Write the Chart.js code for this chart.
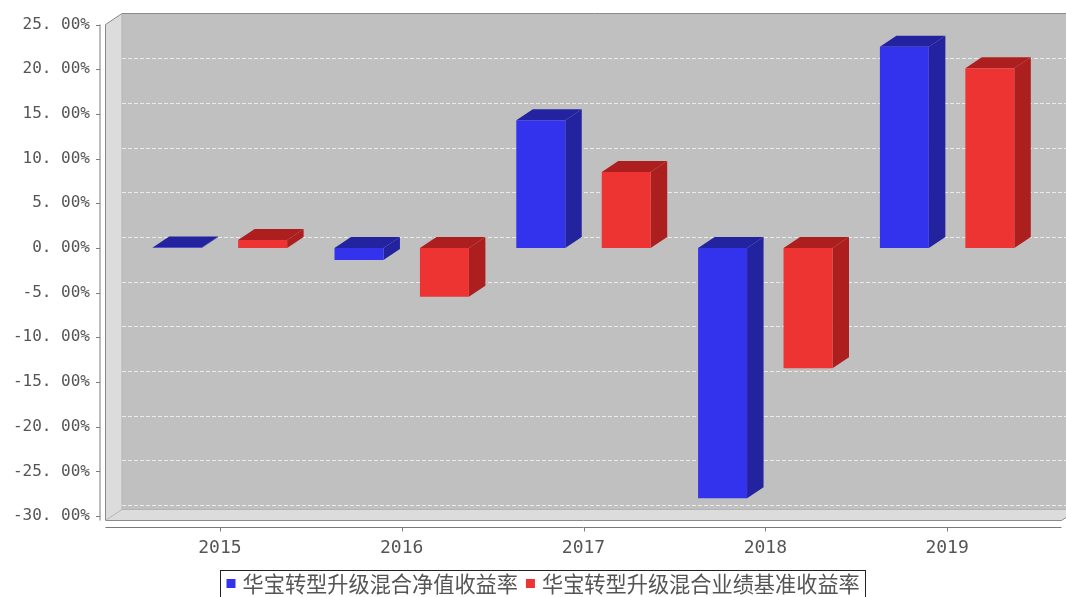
<!DOCTYPE html>
<html>
<head>
<meta charset="utf-8">
<title>华宝转型升级混合 年度收益率</title>
<script src="https://cdn.jsdelivr.net/npm/chart.js@4.4.1/dist/chart.umd.min.js"></script>
<style>
  html, body { margin: 0; padding: 0; background: #fff; }
  #wrap { position: relative; width: 1066px; height: 597px; }
</style>
</head>
<body>
<div id="wrap"><canvas id="chart"></canvas></div>
<script>
// data
const years = ["2015", "2016", "2017", "2018", "2019"];
const navReturn = [0.05, -1.35, 14.3, -28.0, 22.5];
const benchmarkReturn = [0.9, -5.45, 8.5, -13.45, 20.1];
const tickValues = [25, 20, 15, 10, 5, 0, -5, -10, -15, -20, -25, -30];
const tickLabels = ["25. 00%", "20. 00%", "15. 00%", "10. 00%", "5. 00%", "0. 00%",
  "-5. 00%", "-10. 00%", "-15. 00%", "-20. 00%", "-25. 00%", "-30. 00%"];
const seriesNames = ["华宝转型升级混合净值收益率", "华宝转型升级混合业绩基准收益率"];

const depthX = 16.5;
const depthY = 11;
const sideMargin = 23.5;
const darkColors = ["#23239f", "#ad1f1f"];

function frameBox(chart) {
	const a = chart.chartArea;
	return { L: a.left - sideMargin, R: a.right + sideMargin, T: a.top, B: a.bottom };
}

const bars3d = {
	id: "bars3d",
	beforeDraw(chart) {
		const ctx = chart.ctx;
		const f = frameBox(chart);
		ctx.save();
		// back wall
		ctx.fillStyle = "#c0c0c0";
		ctx.fillRect(f.L + depthX, f.T - depthY, f.R - f.L, f.B - f.T);
		// left wall + floor
		ctx.fillStyle = "#dcdcdc";
		ctx.beginPath();
		ctx.moveTo(f.L, f.T);
		ctx.lineTo(f.L + depthX, f.T - depthY);
		ctx.lineTo(f.L + depthX, f.B - depthY);
		ctx.lineTo(f.L, f.B);
		ctx.closePath();
		ctx.fill();
		ctx.beginPath();
		ctx.moveTo(f.L, f.B);
		ctx.lineTo(f.L + depthX, f.B - depthY);
		ctx.lineTo(f.R + depthX, f.B - depthY);
		ctx.lineTo(f.R, f.B);
		ctx.closePath();
		ctx.fill();
		// outline
		ctx.strokeStyle = "#8a8a8a";
		ctx.lineWidth = 1;
		ctx.beginPath();
		ctx.moveTo(f.L, f.B);
		ctx.lineTo(f.L, f.T);
		ctx.lineTo(f.L + depthX, f.T - depthY);
		ctx.lineTo(f.R + depthX, f.T - depthY);
		ctx.moveTo(f.L, f.B);
		ctx.lineTo(f.R, f.B);
		ctx.lineTo(f.R + depthX, f.B - depthY);
		ctx.stroke();
		ctx.strokeStyle = "#b4b4b4";
		ctx.beginPath();
		ctx.moveTo(f.L + depthX, f.T - depthY);
		ctx.lineTo(f.L + depthX, f.B - depthY);
		ctx.lineTo(f.R + depthX, f.B - depthY);
		ctx.moveTo(f.L, f.B);
		ctx.lineTo(f.L + depthX, f.B - depthY);
		ctx.stroke();
		ctx.restore();
	},
	beforeDatasetsDraw(chart) {
		const ctx = chart.ctx;
		const f = frameBox(chart);
		const y = chart.scales.y;
		ctx.save();
		// dashed grid lines on the back wall
		ctx.strokeStyle = "rgba(240,240,240,0.9)";
		ctx.lineWidth = 1;
		ctx.setLineDash([4, 2]);
		tickValues.forEach(v => {
			if (v === tickValues[0]) return;
			const py = Math.round(y.getPixelForValue(v) - depthY) + 0.5;
			ctx.beginPath();
			ctx.moveTo(f.L + depthX, py);
			ctx.lineTo(f.R + depthX, py);
			ctx.stroke();
		});
		ctx.setLineDash([]);
		// top and side faces of every bar
		chart.data.datasets.forEach((ds, di) => {
			const meta = chart.getDatasetMeta(di);
			ctx.fillStyle = darkColors[di];
			meta.data.forEach(el => {
				const p = el.getProps(["x", "y", "base", "width"], true);
				const left = p.x - p.width / 2;
				const right = p.x + p.width / 2;
				const top = Math.min(p.y, p.base);
				const bottom = Math.max(p.y, p.base);
				ctx.beginPath();
				ctx.moveTo(left, top);
				ctx.lineTo(left + depthX, top - depthY);
				ctx.lineTo(right + depthX, top - depthY);
				ctx.lineTo(right, top);
				ctx.closePath();
				ctx.fill();
				ctx.beginPath();
				ctx.moveTo(right, top);
				ctx.lineTo(right + depthX, top - depthY);
				ctx.lineTo(right + depthX, bottom - depthY);
				ctx.lineTo(right, bottom);
				ctx.closePath();
				ctx.fill();
			});
		});
		ctx.restore();
	},
	afterDraw(chart) {
		const ctx = chart.ctx;
		const f = frameBox(chart);
		const y = chart.scales.y;
		const x = chart.scales.x;
		ctx.save();
		ctx.strokeStyle = "#7a7a7a";
		ctx.lineWidth = 1;
		// value axis
		const ax = f.L - 5.5;
		ctx.beginPath();
		ctx.moveTo(ax, f.T);
		ctx.lineTo(ax, f.B);
		tickValues.forEach(v => {
			const py = Math.round(y.getPixelForValue(v)) + 0.5;
			ctx.moveTo(ax - 4, py);
			ctx.lineTo(ax, py);
		});
		// category axis
		const ay = Math.round(f.B) + 6.5;
		ctx.moveTo(f.L, ay);
		ctx.lineTo(f.R, ay);
		years.forEach((c, i) => {
			const px = Math.round(x.getPixelForValue(i)) + 0.5;
			ctx.moveTo(px, ay);
			ctx.lineTo(px, ay + 4);
		});
		ctx.stroke();

		// legend
		ctx.font = '21.2px "Noto Sans CJK SC"';
		ctx.textBaseline = "middle";
		const box = 9, padL = 6, gap = 7, itemGap = 8, padR = 6;
		const widths = chart.data.datasets.map(ds => ctx.measureText(ds.label).width);
		let total = padL + padR;
		widths.forEach((w, i) => { total += box + gap + w + (i ? itemGap : 0); });
		const lx = 220.5;
		const ly = 570.5;
		ctx.strokeStyle = "#222";
		ctx.strokeRect(lx, ly, Math.round(total), 40);
		let cx = lx + padL;
		chart.data.datasets.forEach((ds, i) => {
			if (i) cx += itemGap;
			ctx.fillStyle = ds.backgroundColor;
			ctx.fillRect(cx, 579, box, box);
			cx += box + gap;
			ctx.fillStyle = "#555";
			ctx.fillText(ds.label, cx, 584);
			cx += widths[i];
		});
		ctx.restore();
	}
};

const ctx = document.getElementById("chart").getContext("2d");
const myChart = new Chart(ctx, {
	type: "bar",
	data: {
		labels: years,
		datasets: [
			{
				label: seriesNames[0],
				data: navReturn,
				backgroundColor: "#3333ee",
				borderWidth: 0,
			},
			{
				label: seriesNames[1],
				data: benchmarkReturn,
				backgroundColor: "#ee3333",
				borderWidth: 0,
			},
		],
	},
	options: {
		responsive: true,
		maintainAspectRatio: false,
		animation: false,
		layout: { padding: { top: 24.5, right: 28, bottom: 0, left: 0 } },
		categoryPercentage: 0.94,
		barPercentage: 0.573,
		plugins: {
			legend: { display: false },
			tooltip: { enabled: false },
		},
		scales: {
			x: {
				grid: { display: false, drawTicks: false },
				border: { display: false },
				ticks: {
					color: "#555",
					padding: 17,
					font: { family: "DejaVu Sans Mono", size: 18 },
				},
				afterFit: s => { s.height = 76.5; },
			},
			y: {
				min: -30.5,
				max: 25,
				grid: { display: false, drawTicks: false },
				border: { display: false },
				afterBuildTicks: s => { s.ticks = tickValues.map(v => ({ value: v })); },
				ticks: {
					color: "#555",
					padding: 39,
					font: { family: "DejaVu Sans Mono", size: 16 },
					callback: v => tickLabels[tickValues.indexOf(v)],
				},
				afterFit: s => {
					s.width = 129;
					s.paddingTop = 10;
					s.paddingBottom = 10;
				},
			},
		},
	},
	plugins: [bars3d],
});
</script>
</body>
</html>
